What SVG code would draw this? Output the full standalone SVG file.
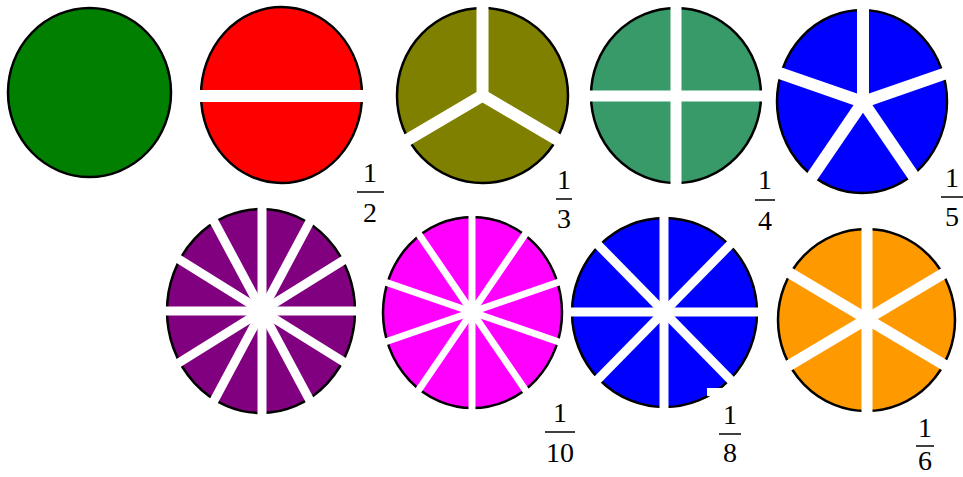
<svg xmlns="http://www.w3.org/2000/svg" width="963" height="477" viewBox="0 0 963 477">
<style>
.disc{stroke:#000;stroke-width:2.5}
.cut{stroke:#fff;stroke-linecap:butt}
.num{font-size:28px;fill:#000;text-anchor:middle}
.bar{stroke:#000;stroke-width:1.5}
</style>
<rect width="963" height="477" fill="#fff"/>
<g id="whole">
<ellipse class="disc" cx="89.5" cy="92.5" rx="81.5" ry="84.5" fill="#007F00"/>
</g>
<g id="halves">
<ellipse class="disc" cx="281.5" cy="95" rx="80.5" ry="88" fill="#FF0000"/>
<line class="cut" stroke-width="12" x1="195" y1="96" x2="368" y2="96"/>
</g>
<g font-family="'Liberation Serif', 'Times New Roman', serif">
<g id="half-label">
<text class="num" x="370" y="182">1</text>
<line class="bar" x1="357" y1="192" x2="384" y2="192"/>
<text class="num" x="370" y="222">2</text>
</g>
<g id="third-label">
<text class="num" x="564" y="189">1</text>
<line class="bar" x1="556" y1="199" x2="572" y2="199"/>
<text class="num" x="564" y="228">3</text>
</g>
<g id="quarter-label">
<text class="num" x="765" y="189">1</text>
<line class="bar" x1="755" y1="200" x2="775" y2="200"/>
<text class="num" x="765" y="230">4</text>
</g>
<g id="fifth-label">
<text class="num" x="952" y="187">1</text>
<line class="bar" x1="941" y1="197" x2="963" y2="197"/>
<text class="num" x="952" y="226">5</text>
</g>
<g id="tenth-label">
<text class="num" x="560" y="422">1</text>
<line class="bar" x1="545" y1="432" x2="575" y2="432"/>
<text class="num" x="560" y="462">10</text>
</g>
<g id="eighth-label">
<text class="num" x="730" y="424">1</text>
<line class="bar" x1="719" y1="434" x2="741" y2="434"/>
<text class="num" x="730" y="462">8</text>
</g>
<g id="sixth-label">
<text class="num" x="925" y="437">1</text>
<line class="bar" x1="916" y1="446" x2="934" y2="446"/>
<text class="num" x="925" y="470">6</text>
</g>
</g>
<g id="thirds">
<ellipse class="disc" cx="482.5" cy="95.5" rx="85.5" ry="87.5" fill="#808000"/>
<g class="cut" stroke-width="12">
<line x1="482.5" y1="95.5" x2="482.5" y2="1.5"/>
<line x1="482.5" y1="95.5" x2="562.2" y2="142.5"/>
<line x1="482.5" y1="95.5" x2="402.8" y2="142.5"/>
</g>
</g>
<g id="quarters">
<ellipse class="disc" cx="676" cy="95.5" rx="85" ry="87.5" fill="#389A69"/>
<g class="cut" stroke-width="11">
<line x1="676" y1="2" x2="676" y2="190"/>
<line x1="585" y1="96" x2="767" y2="96"/>
</g>
</g>
<g id="fifths">
<ellipse class="disc" cx="862" cy="101.5" rx="85" ry="91.5" fill="#0000FF"/>
<g class="cut" stroke-width="12">
<line x1="863" y1="102" x2="863" y2="4"/>
<line x1="863" y1="102" x2="950.5" y2="71.7"/>
<line x1="863" y1="102" x2="917.1" y2="181.3"/>
<line x1="863" y1="102" x2="808.9" y2="181.3"/>
<line x1="863" y1="102" x2="775.5" y2="71.7"/>
</g>
</g>
<g id="twelfths">
<ellipse class="disc" cx="261" cy="311" rx="94" ry="102" fill="#800080"/>
<g class="cut" stroke-width="9">
<line x1="262" y1="202" x2="262" y2="420"/>
<line x1="312.5" y1="405.4" x2="211.5" y2="216.6"/>
<line x1="349.5" y1="365.5" x2="174.5" y2="256.5"/>
<line x1="363" y1="311" x2="161" y2="311"/>
<line x1="349.5" y1="256.5" x2="174.5" y2="365.5"/>
<line x1="312.5" y1="216.6" x2="211.5" y2="405.4"/>
</g>
</g>
<g id="tenths">
<ellipse class="disc" cx="472.5" cy="312.5" rx="89.5" ry="95.5" fill="#FF00FF" stroke-width="3"/>
<g class="cut" stroke-width="7">
<line x1="472" y1="210" x2="472" y2="414"/>
<line x1="528.4" y1="229.5" x2="415.6" y2="394.5"/>
<line x1="563.3" y1="280.5" x2="380.7" y2="343.5"/>
<line x1="563.3" y1="343.5" x2="380.7" y2="280.5"/>
<line x1="528.4" y1="394.5" x2="415.6" y2="229.5"/>
</g>
</g>
<g id="eighths">
<ellipse class="disc" cx="664.5" cy="312.5" rx="92.5" ry="94.5" fill="#0000FF"/>
<g class="cut" stroke-width="9">
<line x1="664" y1="211" x2="664" y2="413"/>
<line x1="565" y1="312" x2="763" y2="312"/>
<line x1="734" y1="383.4" x2="594" y2="240.6"/>
<line x1="734" y1="240.6" x2="594" y2="383.4"/>
</g>
<rect x="707" y="388" width="16" height="8" fill="#fff"/>
</g>
<g id="sixths">
<ellipse class="disc" cx="866.5" cy="320" rx="88.5" ry="91" fill="#FF9900"/>
<g class="cut" stroke-width="11">
<line x1="867" y1="221" x2="867" y2="417"/>
<line x1="949.3" y1="368" x2="784.7" y2="270"/>
<line x1="949.3" y1="270" x2="784.7" y2="368"/>
</g>
</g>
</svg>
